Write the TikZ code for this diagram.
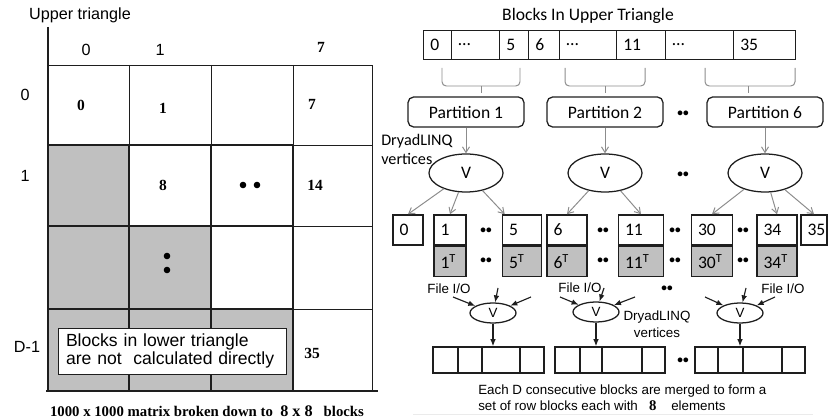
\documentclass[tikz,border=0pt]{standalone}
\usepackage{fontspec}
\setmainfont{Carlito}
\newfontfamily\arialf{Liberation Sans}
\newfontfamily\timesf{Liberation Serif}
\usetikzlibrary{shapes.geometric,arrows.meta,positioning}
\definecolor{cellgray}{HTML}{C0C0C0}
\definecolor{wire}{HTML}{8C8C8C}
\definecolor{ink}{HTML}{1E1E1E}
\newlength\pxu
\setlength\pxu{0.025cm}

\begin{document}
\begin{tikzpicture}[x=0.025cm, y=-0.025cm,
  gridthin/.style={ink, line width=0.7pt},
  gridthick/.style={ink, line width=1.5pt},
  axlab/.style={font=\arialf\fontsize{11.5}{13}\selectfont},
  cellnum/.style={font=\timesf\bfseries\fontsize{11}{13}\selectfont},
  notebox/.style={draw=ink, fill=white, line width=0.6pt, align=left,
    text width=212\pxu, inner xsep=8\pxu, minimum height=46\pxu,
    font=\arialf\fontsize{12.5}{12.5}\selectfont},
  cal/.style={font=\fontsize{12.5}{14}\selectfont},
  cell/.style={ink, line width=0.6pt},
  brc/.style={wire, line width=0.7pt, rounded corners=3pt},
  pbox/.style={draw=ink, rounded corners=4pt, line width=0.9pt,
    minimum width=116\pxu, minimum height=30\pxu, cal},
  vnode/.style={draw=ink, ellipse, line width=0.9pt, inner sep=0pt,
    minimum width=74\pxu, minimum height=38\pxu, cal},
  garrow/.style={wire, line width=0.7pt, -{Straight Barb[length=4pt,width=5pt]}},
  blk/.style={draw=ink, line width=1.1pt, minimum height=30\pxu, inner sep=0pt},
  tblk/.style={blk, fill=cellgray},
  dots/.style={font=\bfseries\fontsize{8}{8}\selectfont, inner sep=0pt},
  small/.style={font=\arialf\fontsize{9.5}{10.7}\selectfont},
  svnode/.style={draw=ink, ellipse, line width=0.9pt, inner sep=0pt,
    minimum width=46\pxu, minimum height=20\pxu, small},
  karrow/.style={ink, line width=0.8pt, -{Latex[length=5pt,width=4pt]}},
  rowblk/.style={draw=ink, line width=1.1pt, minimum width=110\pxu,
    minimum height=26\pxu, inner sep=0pt}]

\useasboundingbox (0,0) rectangle (828,419);

% matrix of blocks
\fill[cellgray] (48,145) rectangle (129,309);
\fill[cellgray] (129,226) rectangle (211,309);
\fill[cellgray] (48,309) rectangle (293,391);
\draw[gridthin] (48,65) -- (372,65) -- (372,391);
\foreach \x in {129,211,293} \draw[gridthin] (\x,65) -- (\x,145);
\foreach \y in {145,226,309} \draw[gridthin] (293,\y) -- (372,\y);
\draw[gridthick] (48,27) -- (48,391);
\foreach \x in {129,211,293} \draw[gridthick] (\x,145) -- (\x,391);
\foreach \y in {145,226,309} \draw[gridthick] (48,\y) -- (293,\y);
\draw[gridthick] (46,391) -- (378,391);

\node[axlab] (uptri) at (80,15) {Upper triangle};
\node[axlab] (c0) at (86,50) {0};
\node[axlab] (c1) at (160,50) {1};
\node[cellnum] (c7) at (321,47) {7};
\node[axlab] (r0) at (25,95) {0};
\node[axlab] (r1) at (25,176) {1};
\node[axlab] (rd) at (27,347) {D-1};

\node[cellnum] (m0) at (81,105) {0};
\node[cellnum] (m1) at (163,108) {1};
\node[cellnum] (m7) at (312,104) {7};
\node[cellnum] (m8) at (163,185) {8};
\node[cellnum] (m14) at (315,185) {14};
\node[cellnum] (m35) at (312,353) {35};
\fill (243,185) circle (3.3) (257,185) circle (3.3);
\fill (167,256) circle (3.3) (167,270) circle (3.3);

\node[notebox] (note) at (172,351) {Blocks in lower triangle\\are not\ \ calculated directly};
\node[font=\timesf\bfseries\fontsize{10.5}{12}\selectfont] (caption) at (207,411)
  {1000 x 1000 matrix broken down to\ \ {\fontsize{11.5}{12}\selectfont 8 x 8}\ \ \ blocks};

% blocks in upper triangle
\node[font=\fontsize{12.5}{14}\selectfont] (title) at (588,16) {Blocks In Upper Triangle};
\foreach \l/\r/\t in {423/451/0, 451/499/…, 499/528/5, 528/559/6, 559/616/…,
    616/665/11, 665/733/…, 733/795/35} {
  \draw[cell] (\l,30) rectangle (\r,59);
  \node[cal, anchor=west, inner sep=0pt] (a\l) at (\l+7,44.5) {\t};
}
\foreach \l/\m/\r in {442/481/520, 565/605/645, 705/748/795} {
  \draw[brc] (\l,68) -- (\l,86) -- (\r,86) -- (\r,68);
  \draw[brc] (\m,86) -- (\m,93);
}

\node[pbox] (p1) at (466,112) {Partition 1};
\node[pbox] (p2) at (605,112) {Partition 2};
\node[pbox] (p6) at (765,112) {Partition 6};
\node[dots] (pd) at (683,114) {••};

\node[vnode] (v1) at (466,173) {V};
\node[vnode] (v2) at (605,173) {V};
\node[vnode] (v3) at (765,173) {V};
\node[dots] (vd) at (683,175) {••};
\node[align=left, anchor=north west, inner sep=0pt,
  font=\fontsize{11.5}{13.5}\selectfont] (dlab) at (381,134) {DryadLINQ\\vertices};
\draw[garrow] (p1) -- (v1);
\draw[garrow] (p2) -- (v2);
\draw[garrow] (p6) -- (v3);

% partitioned blocks and transposes
\foreach \n/\cx/\w in {0/408/30, 1/450/32, 5/522/39, 6/567/40, 11/641/45,
    30/712/41, 34/777/40, 35/814/26} {
  \node[blk, minimum width=\w\pxu] (b\n) at (\cx,230) {};
  \node[cal, anchor=west, inner sep=0pt] (bl\n) at ([xshift=7\pxu]b\n.west) {\n};
}
\foreach \n/\w in {1/32, 5/39, 6/40, 11/45, 30/41, 34/40} {
  \node[tblk, anchor=north, minimum width=\w\pxu] (t\n) at (b\n.south) {};
  \node[cal, anchor=west, inner sep=0pt] (tl\n) at ([xshift=7\pxu]t\n.west) {\n\textsuperscript{T}};
}
\foreach \x in {486,603,675,743} {
  \node[dots] (ud\x) at (\x,231) {••};
  \node[dots] (ld\x) at (\x,261) {••};
}
\draw[garrow] (v1) -- (b0.north);
\draw[garrow] (v1) -- (b1.north);
\draw[garrow] (v1) -- ([xshift=3\pxu]b5.north west);
\draw[garrow] (v2) -- (b6.north);
\draw[garrow] (v2) -- (b11.north);
\draw[garrow] (v3) -- (b30.north);
\draw[garrow] (v3) -- (b34.north);
\draw[garrow] (v3) -- (b35.north);

% merging into row blocks
\node[svnode] (s1) at (493,313) {V};
\node[svnode] (s2) at (596,312) {V};
\node[svnode] (s3) at (740,313) {V};
\node[small] (f1) at (449,289) {File I/O};
\node[small] (f2) at (580,288) {File I/O};
\node[small] (f3) at (783,289) {File I/O};
\node[dots] (fd) at (667,289) {••};
\node[small, align=center, font=\arialf\fontsize{9.5}{12}\selectfont] (dlab2) at (657,324) {DryadLINQ\\vertices};

\foreach \s/\a/\b/\c in {s1/453/498/531, s2/560/604/635, s3/705/746/775} {
  \coordinate (\s a) at (\a,297);
  \coordinate (\s b) at (\b,288);
  \coordinate (\s c) at (\c,297);
  \draw[karrow] (\s a) -- (\s);
  \draw[karrow] (\s b) -- (\s);
  \draw[karrow] (\s c) -- (\s);
}

\node[rowblk, minimum width=111\pxu] (w1) at (488.5,360) {};
\node[rowblk] (w2) at (610,360) {};
\node[rowblk] (w3) at (750,360) {};
\foreach \x in {458,482,520,580,602,642,718,743,782}
  \draw[ink, line width=1.1pt] (\x,347) -- (\x,373);
\node[dots] (wd) at (683,361) {••};
\draw[karrow] (s1) -- (s1 |- w1.north);
\draw[karrow] (s2) -- (s2 |- w2.north);
\draw[karrow] (s3) -- (s3 |- w3.north);

\node[small, align=left, anchor=north west, inner sep=0pt] (merge) at (478,385)
  {Each D consecutive blocks are merged to form a\\
   set of row blocks each with\ \ \ {\timesf\bfseries\fontsize{10.5}{10.7}\selectfont 8}\ \ \ \ elements};
\draw[black!8, line width=0.6pt] (413,414) -- (813,414);
\end{tikzpicture}
\end{document}
